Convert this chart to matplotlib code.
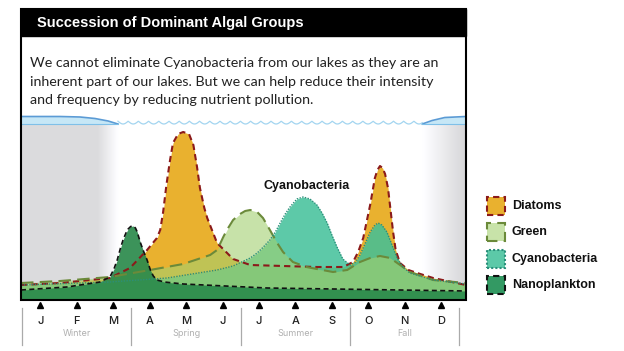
import matplotlib.pyplot as plt
from matplotlib.patches import Rectangle
import numpy as np

# months / seasons along the bottom
months = ['J', 'F', 'M', 'A', 'M', 'J', 'J', 'A', 'S', 'O', 'N', 'D']
seasons = ['Winter', 'Spring', 'Summer', 'Fall']

title = 'Succession of Dominant Algal Groups'
body = ['We cannot eliminate Cyanobacteria from our lakes as they are an',
        'inherent part of our lakes. But we can help reduce their intensity',
        'and frequency by reducing nutrient pollution.']

# relative abundance (x in months, 0 = start of Jan)
diatom_x = [-0.03, 1.04, 2.41, 2.96, 3.43, 3.70, 3.79, 3.87, 3.96, 4.06, 4.14, 4.28, 4.42, 4.58,
            4.70, 4.80, 4.88, 5.00, 5.08, 5.35, 5.79, 6.26, 7.16, 8.09, 8.81, 9.08, 9.22, 9.36,
            9.55, 9.68, 9.75, 9.82, 9.89, 9.96, 10.04, 10.10, 10.18, 10.25, 10.37, 10.60, 10.84,
            11.28, 12.18]
diatom_y = [15, 17, 22, 32, 50, 62, 70, 88, 115, 140, 157, 166, 168, 166,
            155, 133, 112, 92, 82, 57, 41, 35, 34, 33, 33, 38, 48, 62,
            95, 122, 130, 134, 132, 126, 112, 93, 68, 50, 37, 30, 27,
            22, 15]

green_x = [-0.03, 1.04, 2.41, 3.51, 4.42, 5.16, 5.35, 5.43, 5.52, 5.62, 5.79, 5.98, 6.12, 6.26,
           6.45, 6.61, 6.80, 7.00, 7.16, 7.43, 7.80, 8.09, 8.53, 8.92, 9.27, 9.55, 9.82, 10.10,
           10.37, 10.64, 11.28, 12.18]
green_y = [17, 19, 23, 30, 36, 45, 50, 56, 63, 70, 80, 86, 89, 90,
           88, 82, 70, 57, 48, 38, 33, 31, 28, 30, 38, 42, 44, 42,
           35, 28, 20, 17]

cyano_x = [-0.03, 2.41, 3.98, 5.35, 5.79, 6.26, 6.45, 6.62, 6.80, 6.95, 7.08, 7.22, 7.35, 7.54,
           7.71, 7.90, 8.09, 8.23, 8.37, 8.50, 8.64, 8.80, 9.00, 9.15, 9.27, 9.42, 9.55, 9.68,
           9.77, 9.87, 10.01, 10.15, 10.29, 10.45, 10.64, 11.28, 12.18]
cyano_y = [15, 18, 22, 30, 34, 42, 47, 53, 60, 68, 77, 86, 93, 101,
           103, 101, 95, 87, 77, 65, 53, 41, 35, 38, 45, 57, 68, 75,
           77, 75, 68, 55, 42, 33, 27, 20, 16]

nano_x = [-0.03, 1.23, 2.14, 2.41, 2.52, 2.61, 2.70, 2.77, 2.85, 2.91, 2.98, 3.05, 3.11, 3.16,
          3.24, 3.34, 3.43, 3.52, 3.60, 3.70, 3.90, 4.42, 6.72, 12.18]
nano_y = [10, 13, 18, 23, 31, 40, 52, 60, 67, 71, 73.5, 74, 72, 68,
          58, 48, 40, 30, 24, 20, 18, 16, 12, 9]

# ice cover outline (winter)
ice_left_x = [-0.03, 1.04, 1.59, 2.00, 2.36, 2.63]
ice_left_top = [183.5, 183.5, 183, 181.5, 179, 176]
ice_right_x = [10.98, 11.25, 11.60, 12.18]
ice_right_top = [176, 179.5, 182.5, 183.5]
water_level = 176

W, H = 624, 351
fig = plt.figure(figsize=(W / 100, H / 100), dpi=100)

def fx(x):
    return x / W

def fy(y):
    return 1 - y / H

ax = fig.add_axes([fx(21), fy(300), (466 - 21) / W, 190 / H])
ax.set_xlim(-0.03, 12.18)
ax.set_ylim(0, 190)
for s in ax.spines.values():
    s.set_visible(False)

# grey winter shading
xs = np.linspace(-0.03, 12.18, 600)
shade = np.interp(xs, [-0.03, 2.07, 2.63, 11.0, 12.18], [0.86, 0.86, 1.0, 1.0, 0.84])
img = np.dstack([shade, shade, shade * 1.01])
img = np.clip(img, 0, 1)
ax.imshow(img, extent=(-0.03, 12.18, 0, water_level), aspect='auto', zorder=0)

# ice and water surface
ax.fill_between(ice_left_x, water_level, ice_left_top, color='#c6e7f6', zorder=1, lw=0)
ax.plot(ice_left_x, ice_left_top, color='#5b9bd5', lw=1.2, zorder=2)
ax.plot([-0.03, 2.63], [water_level, water_level], color='#7fc0e8', lw=0.8, zorder=2)
ax.fill_between(ice_right_x, water_level, ice_right_top, color='#c6e7f6', zorder=1, lw=0)
ax.plot(ice_right_x, ice_right_top, color='#5b9bd5', lw=1.2, zorder=2)
ax.plot([10.98, 12.18], [water_level, water_level], color='#7fc0e8', lw=0.8, zorder=2)
wx = np.linspace(2.63, 10.98, 900)
wy = water_level + 2.8 - 2.8 * np.abs(np.sin(np.pi * (wx - 2.63) / 0.28))
ax.plot(wx, wy, color='#a3d5f0', lw=0.9, zorder=2)

# algal groups
ax.fill_between(diatom_x, 0, diatom_y, color='#e9b12f', lw=0, zorder=3)
ax.fill_between(cyano_x, 0, cyano_y, color='#40c099', alpha=0.85, lw=0, zorder=4)
ax.fill_between(green_x, 0, green_y, color='#a3d070', alpha=0.6, lw=0, zorder=5)
ax.fill_between(nano_x, 0, nano_y, color='#2b8a4c', alpha=0.92, lw=0, zorder=6)

ax.plot(diatom_x, diatom_y, color='#8b1a1a', lw=1.5, ls=(0, (3, 2)), zorder=7)
ax.plot(green_x, green_y, color='#6b8a3a', lw=1.5, ls=(0, (6, 3)), zorder=7)
ax.plot(cyano_x, cyano_y, color='#2a8f7a', lw=1.0, ls=(0, (1, 1)), zorder=7)
ax.plot(nano_x, nano_y, color='#111111', lw=1.2, ls=(0, (3, 2)), zorder=8)

ax.text(7.81, 114, 'Cyanobacteria', ha='center', va='center', fontsize=9,
        fontweight='bold', family='Liberation Sans', color='#111111', zorder=9)

# month axis
centers = np.arange(12) + 0.5
ax.set_yticks([])
ax.set_xticks(centers, months)
ax.tick_params(axis='x', length=0, pad=11.5, labelsize=8, labelcolor='#222222')
for lab in ax.get_xticklabels():
    lab.set_family('Inter')
    lab.set_fontweight('medium')
tr = ax.get_xaxis_transform()
ax.plot(centers, [-5 / 190] * 12, ls='none', marker='^', ms=4.5, color='black',
        transform=tr, clip_on=False)
for b in [0, 3, 6, 9, 12]:
    ax.plot([b, b], [-8 / 190, -45 / 190], color='#aaaaaa', lw=0.9, transform=tr, clip_on=False)
for i, s in enumerate(seasons):
    ax.text(3 * i + 1.5, -33 / 190, s, transform=tr, ha='center', va='center',
            fontsize=6.5, color='#b0b0b0', family='Inter')

# frame, title bar and text
fig.add_artist(Rectangle((fx(21), fy(300)), 445 / W, 291 / H, fill=False,
                         lw=1.5, ec='black', transform=fig.transFigure))
fig.add_artist(Rectangle((fx(21), fy(36)), 445 / W, 27 / H, fc='black',
                         ec='black', transform=fig.transFigure))
fig.text(fx(37), fy(22.5), title, color='white', fontsize=10.5, fontweight='bold',
         family='Liberation Sans', va='center', ha='left')
for i, line in enumerate(body):
    fig.text(fx(30), fy(63 + 18.5 * i), line, fontsize=10.3, family='Lato',
             color='#222222', va='center', ha='left')

# legend
legend_items = [('Diatoms', '#e9b12f', '#8b1a1a', (0, (3, 2))),
                ('Green', '#c8e3a9', '#6b8a3a', (0, (5, 3))),
                ('Cyanobacteria', '#5cc9a8', '#2a8f7a', (0, (1, 1))),
                ('Nanoplankton', '#339963', '#111111', (0, (3, 2)))]
for i, (name, fc, ec, ls) in enumerate(legend_items):
    yc = 206 + 26.4 * i
    fig.add_artist(Rectangle((fx(487), fy(yc + 9)), 18 / W, 18 / H, fc=fc, ec=ec,
                             lw=1.5, ls=ls, transform=fig.transFigure))
    fig.text(fx(512), fy(yc), name, fontsize=9, fontweight='bold',
             family='Liberation Sans', va='center', ha='left', color='#111111')

fig.savefig('out.png', dpi=100)
